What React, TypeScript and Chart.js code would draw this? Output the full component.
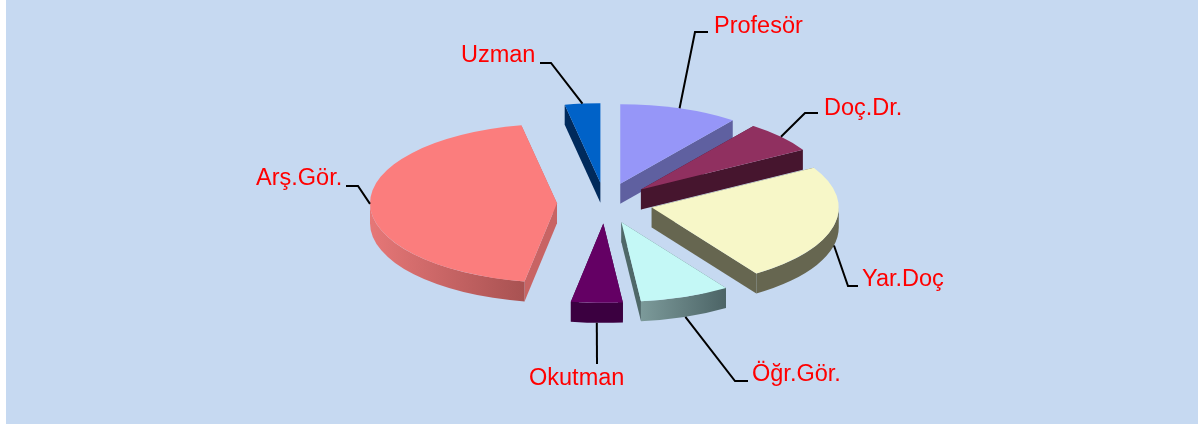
import React, { useEffect, useRef } from "react";
import { Chart, registerables } from "chart.js";

Chart.register(...registerables);

const categories = ["Profesör", "Doç.Dr.", "Yar.Doç", "Öğr.Gör.", "Okutman", "Arş.Gör.", "Uzman"];
const values = [37, 23, 86, 28, 16, 159, 11];
const topColors = ["#9696f8", "#903060", "#f7f7c8", "#c4f8f6", "#640064", "#fb7d7d", "#0062c8"];
const sideColors = ["#5f60a0", "#46152e", "#666650", "#4f6868", "#3b0040", "#c86464", "#002a5c"];
const wallLight = ["#5f60a0", "#46152e", "#666650", "#7c9a9a", "#3b0040", "#e67777", "#002a5c"];
const wallDark = ["#5f60a0", "#46152e", "#666650", "#4c6466", "#3b0040", "#a85252", "#002a5c"];

const SQUASH = 0.425;
const DEPTH = 20;
const EXPLODE = 48;
const LABEL_FONT = "23.5px 'Liberation Sans', Arial, sans-serif";
// elbow points of each leader line and the left edge / baseline of its text
const leaders = [
  { elbow: [[695, 32], [708, 32]], text: [714, 33] },
  { elbow: [[805, 113], [818, 113]], text: [824, 115] },
  { elbow: [[848, 286], [858, 286]], text: [862, 286] },
  { elbow: [[735, 381], [748, 381]], text: [752, 381] },
  { elbow: [[597, 364]], text: [529, 385] },
  { elbow: [[358, 186], [346, 186]], text: [256, 185] },
  { elbow: [[551, 63], [540, 63]], text: [461, 62] },
];

const pie3d = {
  id: "pie3d",
  beforeDatasetsDraw(chart: any) {
    const ctx = chart.ctx as CanvasRenderingContext2D;
    const arcs = chart.getDatasetMeta(0).data as any[];
    const geom = arcs.map((arc, i) => {
      const half = (arc.startAngle + arc.endAngle) / 2;
      const dx = Math.cos(half) * EXPLODE;
      const dy = Math.sin(half) * EXPLODE;
      return {
        arc, i, half, dx, dy,
        x: arc.x + dx,
        y: arc.y + dy * SQUASH,
        rx: arc.outerRadius,
        ry: arc.outerRadius * SQUASH,
      };
    });
    const order = [...geom].sort((a, b) => a.dy - b.dy);

    for (const g of order) {
      const { arc, i, x, y, rx, ry } = g;
      // flat cut faces
      ctx.fillStyle = sideColors[i];
      for (const a of [arc.startAngle, arc.endAngle]) {
        const ex = x + Math.cos(a) * rx;
        const ey = y + Math.sin(a) * ry;
        ctx.beginPath();
        ctx.moveTo(x, y);
        ctx.lineTo(ex, ey);
        ctx.lineTo(ex, ey + DEPTH);
        ctx.lineTo(x, y + DEPTH);
        ctx.closePath();
        ctx.fill();
      }
      // outer rim, front half only
      const s = Math.max(arc.startAngle, 0);
      const e = Math.min(arc.endAngle, Math.PI);
      if (e > s) {
        const x0 = x + Math.cos(s) * rx;
        const x1 = x + Math.cos(e) * rx;
        const left = Math.min(x0, x1);
        const right = Math.max(x0, x1);
        const grad = ctx.createLinearGradient(left, 0, right, 0);
        grad.addColorStop(0, wallLight[i]);
        grad.addColorStop(1, wallDark[i]);
        ctx.fillStyle = grad;
        ctx.beginPath();
        ctx.ellipse(x, y, rx, ry, 0, s, e, false);
        ctx.ellipse(x, y + DEPTH, rx, ry, 0, e, s, true);
        ctx.closePath();
        ctx.fill();
      }
      // top face: the library's own arc, squashed and pulled out
      ctx.save();
      ctx.translate(0, arc.y);
      ctx.scale(1, SQUASH);
      ctx.translate(g.dx, -arc.y + g.dy);
      arc.draw(ctx);
      ctx.restore();
    }

    // leader lines and labels
    ctx.save();
    ctx.lineWidth = 2;
    ctx.strokeStyle = "#000000";
    ctx.lineJoin = "miter";
    geom.forEach((g) => {
      const sin = Math.sin(g.half);
      const ax = g.x + Math.cos(g.half) * g.rx;
      const ay = g.y + sin * g.ry + (sin > 0.1 ? DEPTH : 0);
      const l = leaders[g.i];
      ctx.beginPath();
      ctx.moveTo(ax, ay);
      l.elbow.forEach((p) => ctx.lineTo(p[0], p[1]));
      ctx.stroke();
    });
    ctx.fillStyle = "#ff0000";
    ctx.font = LABEL_FONT;
    ctx.textAlign = "left";
    ctx.textBaseline = "alphabetic";
    categories.forEach((c, i) => {
      ctx.fillText(c, leaders[i].text[0], leaders[i].text[1]);
    });
    ctx.restore();
    return false;
  },
};

export default function App() {
  const ref = useRef<HTMLCanvasElement>(null);
  useEffect(() => {
    document.body.style.margin = "0";
    document.body.style.background = "#ffffff";
    const chart = new Chart(ref.current!, {
      type: "pie",
      data: {
        labels: categories,
        datasets: [{ data: values, backgroundColor: topColors, borderWidth: 0 }],
      },
      options: {
        responsive: false,
        animation: false,
        layout: { padding: { left: 12, right: 0, top: 16, bottom: 35 } },
        plugins: { legend: { display: false }, tooltip: { enabled: false } },
      },
      plugins: [pie3d],
    });
    return () => chart.destroy();
  }, []);
  return (
    <div style={{ position: "relative", width: 1198, height: 425, overflow: "hidden" }}>
      <div style={{ position: "absolute", left: 6, top: 0, width: 1192, height: 424, background: "#c6d9f1" }} />
      <canvas ref={ref} width={1198} height={425} style={{ position: "absolute", left: 0, top: 0, display: "block" }} />
    </div>
  );
}
